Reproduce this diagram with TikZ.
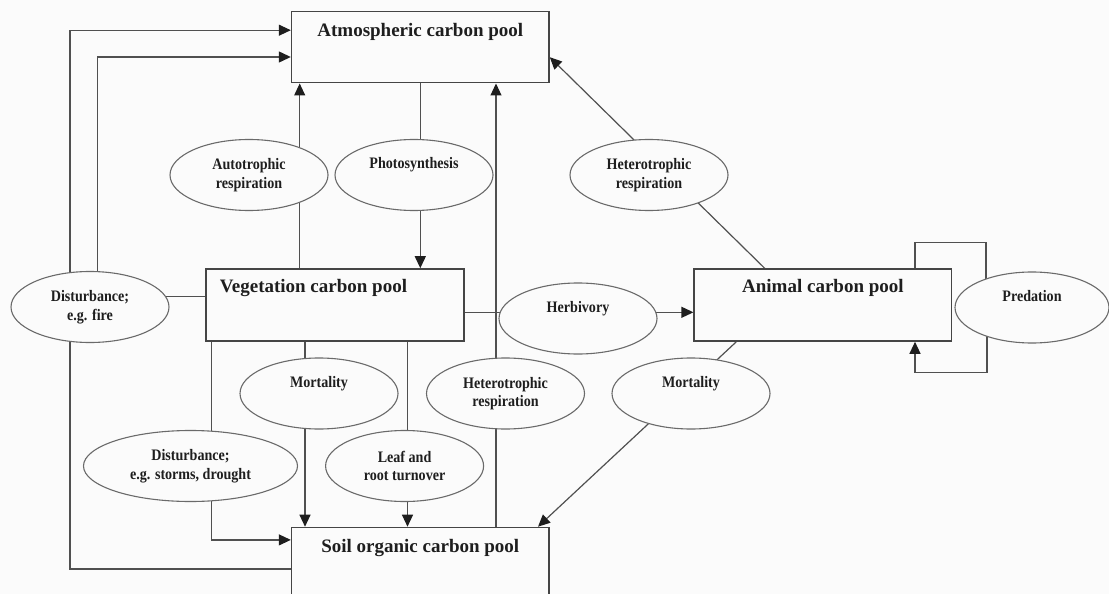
\documentclass[tikz,border=0pt]{standalone}
\usepackage{fontspec}
\setmainfont{Liberation Serif}
\newfontfamily\ovalfont[FakeStretch=0.88]{Liberation Serif}
\usepackage{tikz}
\usetikzlibrary{arrows.meta,positioning,shapes.geometric,backgrounds}
\definecolor{ink}{HTML}{1E1E1E}
\definecolor{edge}{HTML}{454545}
\definecolor{wire}{HTML}{505050}
\definecolor{paper}{HTML}{FBFBFB}
\tikzset{
  >={Triangle[length=12pt,width=11pt,color=ink]},
  pool/.style={rectangle,draw=edge,line width=1.6pt,fill=paper,inner sep=0pt,minimum width=257.4pt,minimum height=71pt},
  pooltxt/.style={font=\fontsize{19}{22}\selectfont\bfseries,text=ink,anchor=center,yshift=-21pt},
  proc/.style={ellipse,draw=wire!85,line width=1.1pt,fill=paper,inner sep=0pt,minimum width=158pt,minimum height=71pt,align=center,font=\ovalfont\fontsize{16}{18.5}\selectfont\bfseries,text=ink},
  arr/.style={->,draw=wire,line width=1.2pt},
  ln/.style={draw=wire,line width=1.2pt},
}

\begin{document}
\begin{tikzpicture}[x=1pt,y=-1pt]
\useasboundingbox (0,0) rectangle (1109,594);
% carbon pools
\node[pool,label={[pooltxt]north:Atmospheric carbon pool}] (atm) at (420.3,47.2) {};
\node[pool,minimum width=258pt,minimum height=72pt,label={[pooltxt,xshift=-21.5pt,yshift=1pt]north:Vegetation carbon pool}] (veg) at (335,305) {};
\node[pool,minimum height=72pt,right=228.6pt of veg,label={[pooltxt,yshift=1pt]north:Animal carbon pool}] (animal) {};
\node[pool,minimum height=83pt,label={[pooltxt]north:Soil organic carbon pool}] (soil) at (420.3,569) {};
% processes
\node[proc] (fire) at (90,307) {Disturbance;\\e.g. fire};
\node[proc] (auto) at (249,175) {Autotrophic\\respiration};
\node[proc] (photo) at (414,175) {Photosynthesis\\\strut};
\node[proc] (hetA) at (649,175) {Heterotrophic\\respiration};
\node[proc] (herb) at (578,318.5) {Herbivory\\\strut};
\node[proc,minimum width=154pt] (pred) at (1032,307.5) {Predation\\\strut};
\node[proc] (vmort) at (319,393.5) {Mortality\\\strut};
\node[proc] (hetB) at (505.5,393.5) {Heterotrophic\\respiration};
\node[proc] (amort) at (691,393.5) {Mortality\\\strut};
\node[proc,minimum width=214pt] (storm) at (190.5,466) {Disturbance;\\e.g. storms, drought};
\node[proc] (leaf) at (404.6,466) {Leaf and\\root turnover};

\begin{scope}[on background layer]
\fill[paper] (0,0) rectangle (1109,594);
% fluxes to the atmosphere
\draw[arr] ([xshift=-20pt]fire.center) |- ([yshift=-19.3pt]atm.north west);
\draw[arr] ([xshift=7.3pt]fire.center) |- ([yshift=-9.8pt]atm.west);
\draw[arr] ([xshift=-35.3pt]veg.north) -- ([xshift=-35.3pt]veg.north |- atm.south);
\draw[arr] ([xshift=75.7pt]soil.north) -- ([xshift=75.7pt]soil.north |- atm.south);
\draw[arr] ([xshift=-58.3pt]animal.north) -- ([yshift=-10pt]atm.east);
\draw[arr] (atm.south) -- (atm.south |- veg.north);
% vegetation and fire
\draw[ln] ([yshift=8.3pt]veg.west) -- ([yshift=8.3pt]veg.west -| fire.center);
\draw[ln] ([xshift=-20pt]fire.center) |- (soil.west);
% litter to the soil
\draw[arr] ([xshift=6.4pt]veg.south west) |- ([yshift=-13.2pt]soil.north west);
\draw[arr] ([xshift=-30pt]veg.south) -- ([xshift=-30pt]veg.south |- soil.north);
\draw[arr] ([xshift=72.5pt]veg.south) -- ([xshift=72.5pt]veg.south |- soil.north);
\draw[arr] ([xshift=-86.6pt]animal.south) -- ([xshift=117.7pt]soil.north);
% animals
\draw[arr] ([yshift=-7.3pt]veg.east) -- ([yshift=-7.3pt]veg.east -| animal.west);
\draw[ln] ([xshift=-37.4pt]animal.north east) |- ([xshift=33.5pt,yshift=26pt]animal.north east) -- ([xshift=33.5pt]animal.east);
\draw[arr] ([xshift=34.5pt]animal.east) |- ([xshift=-37.4pt,yshift=-31pt]animal.south east) -- ([xshift=-37.4pt]animal.south east);
\end{scope}
\end{tikzpicture}
\end{document}
